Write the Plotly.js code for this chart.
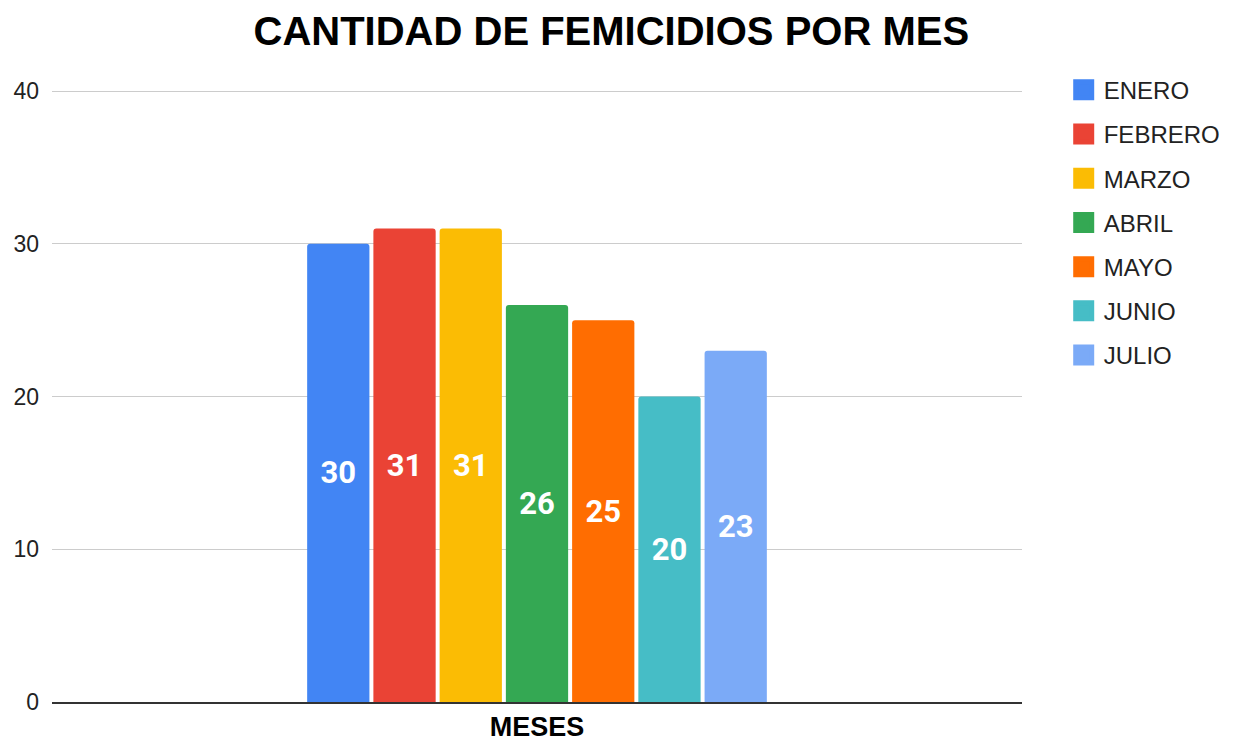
<!DOCTYPE html>
<html>
<head>
<meta charset="utf-8">
<script src="https://cdn.plot.ly/plotly-3.0.1.min.js"></script>
<style>html,body{margin:0;padding:0;background:#fff;}#chart{width:1235px;height:742px;}</style>
</head>
<body>
<div id="chart"></div>
<script>
const months = ['ENERO','FEBRERO','MARZO','ABRIL','MAYO','JUNIO','JULIO'];
const values = [30, 31, 31, 26, 25, 20, 23];
const colors = ['#4285F4','#EA4335','#FBBC04','#34A853','#FF6D01','#46BDC6','#7BAAF7'];
const category = [''];
const yTicks = [0, 10, 20, 30, 40];

const traces = [];
months.forEach((m, i) => {
  traces.push({
    type: 'bar', name: m, x: category, y: [values[i]],
    marker: {color: colors[i], line: {width: 0}, cornerradius: 3},
    text: [String(values[i])], textposition: 'inside', insidetextanchor: 'middle',
    textangle: 0,
    textfont: {family: 'Roboto, Arial, sans-serif', size: 31, color: '#ffffff', weight: 'bold'},
    showlegend: false, hoverinfo: 'skip'
  });
});
months.forEach((m, i) => {
  traces.push({
    type: 'scatter', mode: 'markers', name: m, x: [null], y: [null],
    legendgroup: 'g' + i,
    marker: {symbol: 'square', size: 16, color: colors[i], line: {color: colors[i], width: 5}},
    showlegend: true, hoverinfo: 'skip'
  });
});

const layout = {
  width: 1235, height: 742,
  paper_bgcolor: '#ffffff', plot_bgcolor: '#ffffff',
  margin: {l: 52, r: 213, t: 88, b: 40, autoexpand: false},
  font: {family: 'Arial, "Liberation Sans", sans-serif', color: '#222222'},
  title: {
    text: 'CANTIDAD DE FEMICIDIOS POR MES',
    font: {family: 'Arial, "Liberation Sans", sans-serif', size: 40, color: '#000000', weight: 'bold'},
    x: 0.495, xanchor: 'center', xref: 'container',
    y: 0.958, yanchor: 'middle', yref: 'container'
  },
  barmode: 'group', bargap: 0.522, bargroupgap: 0.06,
  xaxis: {
    type: 'category', showticklabels: false, ticks: '', showgrid: false,
    showline: true, linecolor: '#333333', linewidth: 1.5,
    title: {text: 'MESES', standoff: 19,
      font: {family: 'Arial, "Liberation Sans", sans-serif', size: 27, color: '#000000', weight: 'bold'}},
    automargin: false, fixedrange: true
  },
  yaxis: {
    range: [0, 40.2], tickvals: yTicks, ticktext: yTicks.map(String),
    showgrid: true, gridcolor: '#cccccc', gridwidth: 1, zeroline: false,
    ticks: '', ticklabelstandoff: 12,
    tickfont: {family: 'Arial, "Liberation Sans", sans-serif', size: 23, color: '#222222'},
    automargin: false, fixedrange: true
  },
  showlegend: true,
  legend: {
    x: 1.043, xanchor: 'left', y: 1.033, yanchor: 'top',
    traceorder: 'grouped', tracegroupgap: 10,
    font: {family: 'Arial, "Liberation Sans", sans-serif', size: 24, color: '#222222'},
    itemsizing: 'trace', bgcolor: 'rgba(0,0,0,0)'
  }
};

Plotly.newPlot('chart', traces, layout, {displayModeBar: false, staticPlot: true});
</script>
</body>
</html>
